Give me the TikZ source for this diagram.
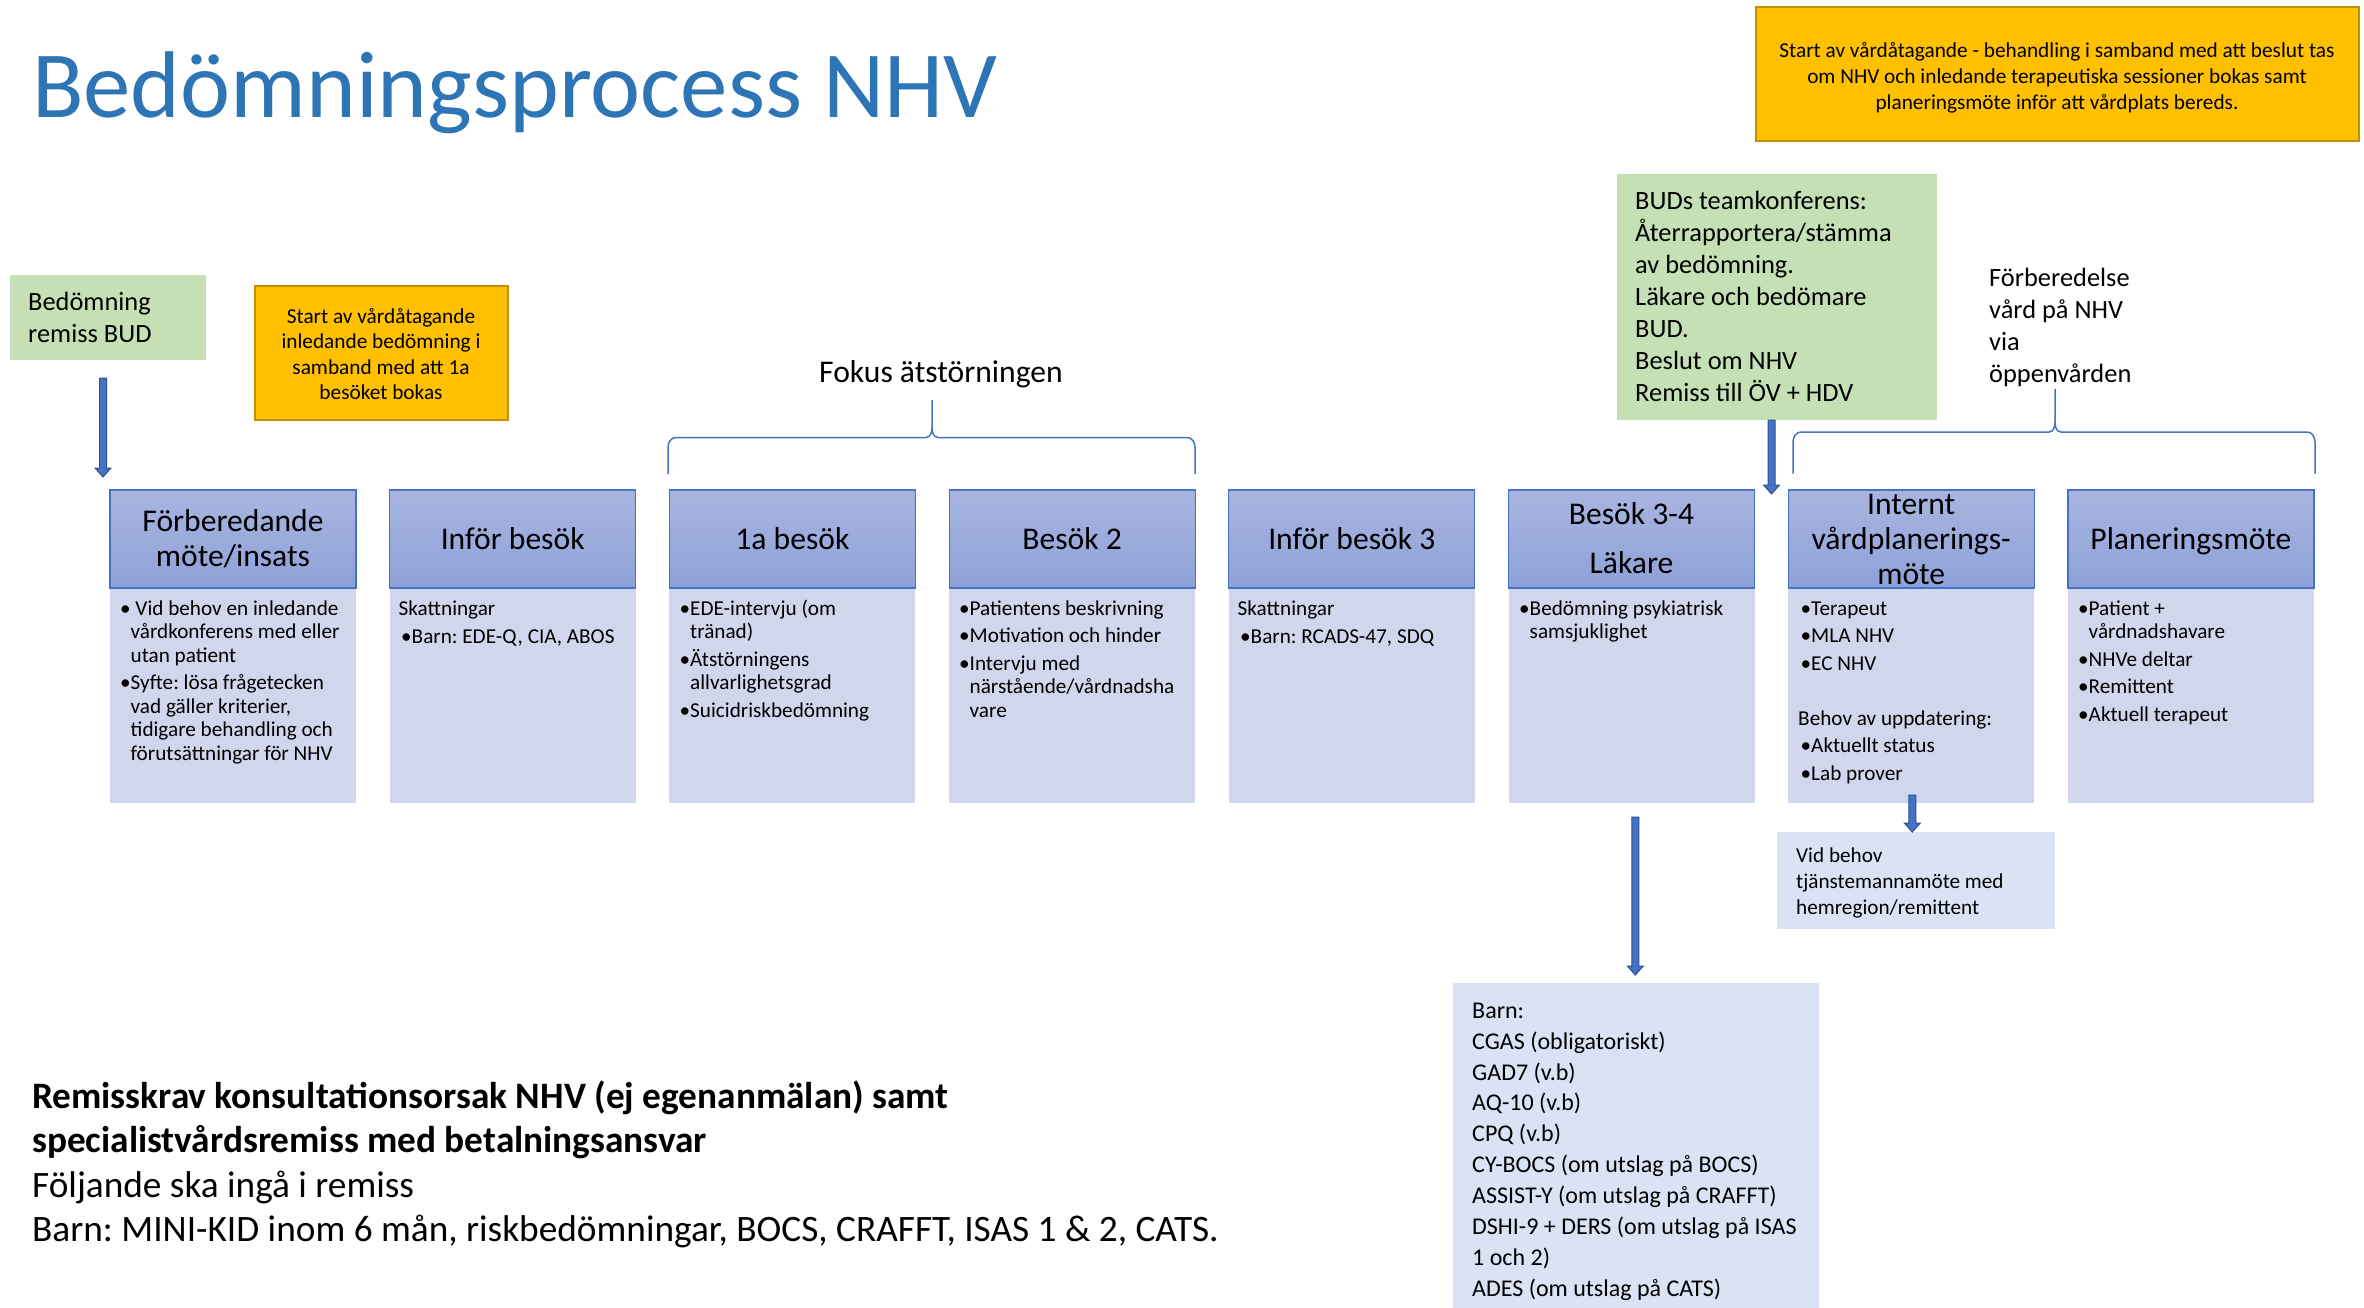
\documentclass[tikz,border=0pt]{standalone}
\usepackage{fontspec}
\setmainfont{Carlito}
\usetikzlibrary{calc}
\frenchspacing
\definecolor{accent}{RGB}{68,114,196}
\definecolor{accentdk}{RGB}{47,82,143}
\definecolor{titleblue}{RGB}{46,117,182}
\definecolor{hdrtop}{RGB}{169,181,224}
\definecolor{hdrbot}{RGB}{141,161,216}
\definecolor{bodyc}{RGB}{208,214,235}
\definecolor{lightblue}{RGB}{218,227,243}
\definecolor{greenc}{RGB}{197,224,180}
\definecolor{orangec}{RGB}{255,192,0}
\definecolor{goldc}{RGB}{191,144,0}
\newcommand\fsz[2]{\fontsize{#1pt}{#2pt}\selectfont}
\newcommand\st{\rule{0pt}{1em}}
\newcommand\bl[1]{\makebox[10.5pt][l]{•}#1}
\newcommand\ct[1]{\hspace*{10.5pt}#1}
\newcommand\barrow[2]{\path[barrowst] let \p1=#1, \p2=#2 in
  (\x1-3.5pt,\y1) -- (\x1+3.5pt,\y1) -- (\x1+3.5pt,\y2+9pt) -- (\x1+8pt,\y2+9pt)
  -- (\x1,\y2) -- (\x1-8pt,\y2+9pt) -- (\x1-3.5pt,\y2+9pt) -- cycle;}
\begin{document}
\begin{tikzpicture}[x=1pt,y=-1pt,
  hdr/.style={draw=accent, line width=1.2pt, top color=hdrtop, bottom color=hdrbot,
    minimum width=246pt, minimum height=98pt, anchor=north west, inner sep=0pt, outer sep=0pt},
  bodyb/.style={fill=bodyc, minimum width=246pt, minimum height=215pt, anchor=north west, inner sep=0pt, outer sep=0pt},
  boxn/.style={anchor=north west, inner sep=0pt, outer sep=0pt},
  htxt/.style={anchor=base, inner sep=0pt, font=\fsz{31.6}{35}},
  htxtm/.style={anchor=north, inner sep=0pt, align=center, font=\fsz{31.6}{35}},
  btxt/.style={anchor=north west, inner sep=0pt, align=left, font=\fsz{21.2}{23.5}},
  brace/.style={draw=accent, line width=1.5pt},
  barrowst/.style={fill=accent, draw=accentdk, line width=1pt, line join=miter}
]
\useasboundingbox[fill=white] (0,0) rectangle (2364,1308);

% title
\node[anchor=base west, inner sep=0pt, text=titleblue, font=\fsz{94.8}{110}] (title) at (32,118) {Bedömningsprocess NHV};

% top boxes
\node[boxn, fill=greenc, minimum width=196pt, minimum height=85pt] (g1) at (10,275) {};
\node[btxt, font=\fsz{26.4}{32}] (g1t) at (28,310-26.4) {\st Bedömning\\remiss BUD};

\node[boxn, fill=orangec, draw=goldc, line width=2.5pt, minimum width=253pt, minimum height=134pt] (o1) at (255,286) {};
\node[anchor=north, inner sep=0pt, align=center, font=\fsz{21.3}{25.5}] (o1t) at (381,323-21.3) {\st Start av vårdåtagande\\inledande bedömning i\\samband med att 1a\\besöket bokas};

\node[boxn, fill=orangec, draw=goldc, line width=2.5pt, minimum width=603pt, minimum height=134pt] (o2) at (1756,7) {};
\node[anchor=north, inner sep=0pt, align=center, font=\fsz{21.3}{26}] (o2t) at (2057,57-21.3) {\st Start av vårdåtagande - behandling i samband med att beslut tas\\om NHV och inledande terapeutiska sessioner bokas samt\\planeringsmöte inför att vårdplats bereds.};

\node[boxn, fill=greenc, minimum width=320pt, minimum height=246pt] (g2) at (1617,174) {};
\node[btxt, font=\fsz{26.4}{32}] (g2t) at (1635,209-26.4) {\st BUDs teamkonferens:\\Återrapportera/stämma\\av bedömning.\\Läkare och bedömare\\BUD.\\Beslut om NHV\\Remiss till ÖV + HDV};

\node[btxt, font=\fsz{26.4}{32}] (fv) at (1989,286-26.4) {\st Förberedelse\\vård på NHV\\via\\öppenvården};
\node[anchor=base, inner sep=0pt, font=\fsz{31.6}{35}] (fokus) at (941,382) {Fokus ätstörningen};

% braces
\draw[brace] (668,474) -- (668,447.5) to[out=90,in=180] (676,437.5) -- (926,437.5)
  to[out=0,in=-90] (932,427.5) -- (932,400) -- (932,427.5) to[out=-90,in=180] (938,437.5)
  -- (1187,437.5) to[out=0,in=90] (1195,447.5) -- (1195,474);
\draw[brace] (1793,473.5) -- (1793,442) to[out=90,in=180] (1801,432) -- (2049,432)
  to[out=0,in=-90] (2055,422) -- (2055,389) -- (2055,422) to[out=-90,in=180] (2061,432)
  -- (2307,432) to[out=0,in=90] (2315,442) -- (2315,473.5);

% process boxes
\node[bodyb] (b1) at (110,588) {};
\node[bodyb] (b2) at (389.7,588) {};
\node[bodyb] (b3) at (669.4,588) {};
\node[bodyb] (b4) at (949.1,588) {};
\node[bodyb] (b5) at (1228.8,588) {};
\node[bodyb] (b6) at (1508.5,588) {};
\node[bodyb] (b7) at (1788.2,588) {};
\node[bodyb] (b8) at (2067.9,588) {};
\node[hdr] (h1) at (110,490) {};
\node[hdr] (h2) at (389.7,490) {};
\node[hdr] (h3) at (669.4,490) {};
\node[hdr] (h4) at (949.1,490) {};
\node[hdr] (h5) at (1228.8,490) {};
\node[hdr] (h6) at (1508.5,490) {};
\node[hdr] (h7) at (1788.2,490) {};
\node[hdr] (h8) at (2067.9,490) {};

% header texts
\node[htxtm] (t1) at (233,531-31.6) {\st Förberedande\\möte/insats};
\node[htxt] (t2) at (512.7,549) {Inför besök};
\node[htxt] (t3) at (792.4,549) {1a besök};
\node[htxt] (t4) at (1072.1,549) {Besök 2};
\node[htxt] (t5) at (1351.8,549) {Inför besök 3};
\node[htxtm] (t6) at (1631.5,524-31.6) {\st Besök 3-4\\[14.5pt]Läkare};
\node[htxtm] (t7) at (1911.2,514-31.6) {\st Internt\\vårdplanerings-\\möte};
\node[htxt] (t8) at (2190.9,549) {Planeringsmöte};

% body texts
\node[btxt] (x1) at (120,615-21.2) {\st\bl{\ Vid behov en inledande}\\\ct{vårdkonferens med eller}\\\ct{utan patient}\\[4pt]\bl{Syfte: lösa frågetecken}\\\ct{vad gäller kriterier,}\\\ct{tidigare behandling och}\\\ct{förutsättningar för NHV}};
\node[btxt] (x2) at (398.5,615-21.2) {\st Skattningar\\[4.5pt]\hspace*{2.5pt}\bl{Barn: EDE-Q, CIA, ABOS}};
\node[btxt] (x3) at (679.5,615-21.2) {\st\bl{EDE-intervju (om}\\\ct{tränad)}\\[4pt]\bl{Ätstörningens}\\\ct{allvarlighetsgrad}\\[4pt]\bl{Suicidriskbedömning}};
\node[btxt] (x4) at (959,615-21.2) {\st\bl{Patientens beskrivning}\\[4pt]\bl{Motivation och hinder}\\[4pt]\bl{Intervju med}\\\ct{närstående/vårdnadsha}\\\ct{vare}};
\node[btxt] (x5) at (1237.5,615-21.2) {\st Skattningar\\[4.5pt]\hspace*{2.5pt}\bl{Barn: RCADS-47, SDQ}};
\node[btxt] (x6) at (1519,615-21.2) {\st\bl{Bedömning psykiatrisk}\\\ct{samsjuklighet}};
\node[btxt] (x7) at (1798,615-21.2) {\st\hspace*{2.5pt}\bl{Terapeut}\\[4pt]\hspace*{2.5pt}\bl{MLA NHV}\\[4pt]\hspace*{2.5pt}\bl{EC NHV}\\[4pt]\mbox{}\\[4pt]Behov av uppdatering:\\[4pt]\hspace*{2.5pt}\bl{Aktuellt status}\\[4pt]\hspace*{2.5pt}\bl{Lab prover}};
\node[btxt] (x8) at (2078,615-21.2) {\st\bl{Patient +}\\\ct{vårdnadshavare}\\[4pt]\bl{NHVe deltar}\\[4pt]\bl{Remittent}\\[4pt]\bl{Aktuell terapeut}};

% lower boxes
\node[boxn, fill=lightblue, minimum width=278pt, minimum height=97pt] (vb) at (1777,832) {};
\node[btxt, font=\fsz{21.2}{26}] (vbt) at (1796,862-21.2) {\st Vid behov\\tjänstemannamöte med\\hemregion/remittent};
\node[boxn, fill=lightblue, minimum width=366pt, minimum height=325pt] (barn) at (1453,983) {};
\node[btxt, font=\fsz{24}{30.9}] (barnt) at (1472,1018-24) {\st Barn:\\CGAS (obligatoriskt)\\GAD7 (v.b)\\AQ-10 (v.b)\\CPQ (v.b)\\CY-BOCS (om utslag på BOCS)\\ASSIST-Y (om utslag på CRAFFT)\\DSHI-9 + DERS (om utslag på ISAS\\1 och 2)\\ADES (om utslag på CATS)};

% bottom text
\node[btxt, font=\fsz{37.3}{44.5}] (rem) at (32,1108-37.3) {\st\textbf{Remisskrav konsultationsorsak NHV (ej egenanmälan) samt}\\\textbf{specialistvårdsremiss med betalningsansvar}\\Följande ska ingå i remiss\\Barn: MINI-KID inom 6 mån, riskbedömningar, BOCS, CRAFFT, ISAS 1 \& 2, CATS.};

% arrows
\coordinate (a1s) at (103,378);
\coordinate (a1e) at (103,477);
\coordinate (a2s) at (1771.5,420);
\coordinate (a2e) at (1771.5,494);
\coordinate (a3s) at (1635.3,817);
\coordinate (a3e) at (1635.3,975);
\coordinate (a4s) at (1912.3,795);
\coordinate (a4e) at (1912.3,832);
\barrow{(a1s)}{(a1e)}
\barrow{(a2s)}{(a2e)}
\barrow{(a3s)}{(a3e)}
\barrow{(a4s)}{(a4e)}
\end{tikzpicture}
\end{document}
